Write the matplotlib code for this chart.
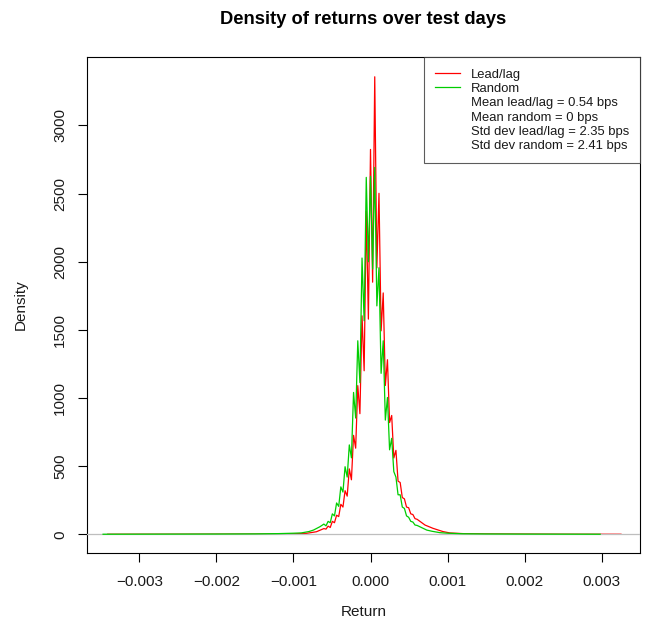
import matplotlib
matplotlib.use("Agg")
import matplotlib.pyplot as plt
from matplotlib.lines import Line2D
from matplotlib.ticker import FixedLocator, FuncFormatter

plt.rcParams['font.family'] = ['Liberation Sans', 'DejaVu Sans']

# ---------------- data (returns in basis points, density values) ----------------
center_bps = [-6.05, -5.775, -5.5, -5.225, -4.95, -4.675, -4.4, -4.125, -3.85, -3.575,
              -3.3, -3.025, -2.75, -2.475, -2.2, -1.925, -1.65, -1.375, -1.1, -0.825,
              -0.55, -0.275, 0.0, 0.275, 0.55, 0.825, 1.1, 1.375, 1.65, 1.925,
              2.2, 2.475, 2.75, 3.025, 3.3, 3.575, 3.85, 4.125, 4.4, 4.675,
              4.95, 5.225, 5.5, 5.775, 6.05]

leadlag_center = [42, 38, 60, 50, 95, 85, 140, 130, 220, 200,
                  320, 280, 480, 400, 726, 632, 1091, 885, 1603, 1200,
                  2371, 1579, 2824, 1850, 3357, 1955, 2502, 1493, 1771, 1092,
                  1281, 820, 872, 560, 616, 390, 380, 270, 260, 200,
                  195, 150, 145, 115, 110]

random_center = [75, 62, 95, 85, 150, 135, 230, 205, 348, 310,
                 496, 420, 656, 561, 1041, 853, 1420, 1113, 2027, 1567,
                 2619, 2000, 2627, 1946, 2692, 1676, 1956, 1181, 1420, 838,
                 1004, 620, 704, 460, 420, 290, 290, 200, 190, 135,
                 125, 95, 90, 68, 65]

leadlag_left_bps = [-34.1, -30.0, -25.0, -20.0, -15.0, -12.0, -10.0, -8.3, -7.0]
leadlag_left = [0.5, 0.8, 1.0, 1.5, 2.0, 3.0, 4.0, 7.0, 19.0]
leadlag_right_bps = [7.07, 8.1, 9.4, 10.3, 12.0, 15.0, 20.0, 25.0, 30.0, 32.5]
leadlag_right = [68, 44, 20, 10, 5, 3, 2, 1, 0.7, 0.5]

random_left_bps = [-34.7, -30.0, -25.0, -20.0, -15.0, -12.0, -10.0, -9.0, -8.0, -7.4, -6.55]
random_left = [0.5, 1.0, 1.5, 2.0, 3.0, 5.0, 8.0, 10.0, 20.0, 31.0, 56.0]
random_right_bps = [7.3, 8.0, 9.0, 10.0, 12.0, 15.0, 20.0, 25.0, 29.8]
random_right = [31, 22, 12, 8, 4, 2.5, 1.5, 1.0, 0.5]

x_ticks = [-0.003, -0.002, -0.001, 0.000, 0.001, 0.002, 0.003]
y_ticks = [0, 500, 1000, 1500, 2000, 2500, 3000]

legend_labels = ["Lead/lag", "Random",
                 "Mean lead/lag = 0.54 bps", "Mean random = 0 bps",
                 "Std dev lead/lag = 2.35 bps", "Std dev random = 2.41 bps"]

BPS = 1e-4
ll_x = [v * BPS for v in leadlag_left_bps + center_bps + leadlag_right_bps]
ll_y = leadlag_left + leadlag_center + leadlag_right
rd_x = [v * BPS for v in random_left_bps + center_bps + random_right_bps]
rd_y = random_left + random_center + random_right

# ---------------- figure ----------------
W, H = 648, 634
fig = plt.figure(figsize=(W / 100, H / 100), dpi=100)
ax = fig.add_axes([87.3 / W, 1 - 552.7 / H, (640 - 87.3) / W, (552.7 - 57.3) / H])

RED = '#FF0000'
GREEN = '#00CD00'
ax.plot(ll_x, ll_y, color=RED, lw=0.9, zorder=2)
ax.axhline(0, color='#BEBEBE', lw=0.9, zorder=3)
ax.plot(rd_x, rd_y, color=GREEN, lw=0.9, zorder=4)

ax.set_xlim(-0.0036746, 0.0034968)
ax.set_ylim(-135, 3500)

ax.xaxis.set_major_locator(FixedLocator(x_ticks))
ax.yaxis.set_major_locator(FixedLocator(y_ticks))
ax.xaxis.set_major_formatter(FuncFormatter(lambda v, p: ("%.3f" % v).replace('-', '\u2212')))
ax.yaxis.set_major_formatter(FuncFormatter(lambda v, p: "%d" % v))
ax.tick_params(axis='both', direction='out', length=6.5, width=0.8, color='black',
               labelsize=11, labelcolor='#1a1a1a')
ax.tick_params(axis='x', pad=9.5)
ax.tick_params(axis='y', pad=8)
for lab in ax.get_yticklabels():
    lab.set_rotation(90)
    lab.set_va('center')
for s in ax.spines.values():
    s.set_linewidth(0.8)
    s.set_color('black')

fig.text(363.6 / W, 1 - 19.3 / H, "Density of returns over test days",
         ha='center', va='center', fontsize=13.2, fontweight='bold', color='black')
fig.text(363.6 / W, 1 - 612 / H, "Return", ha='center', va='center', fontsize=11, color='#1a1a1a')
fig.text(21 / W, 1 - 305 / H, "Density", ha='center', va='center', rotation=90,
         fontsize=11, color='#1a1a1a')

handles = [Line2D([], [], color=RED, lw=0.9), Line2D([], [], color=GREEN, lw=0.9)] + \
          [Line2D([], [], color='none', lw=0) for _ in range(4)]
leg = ax.legend(handles, legend_labels, loc='upper right', fontsize=9.4,
                frameon=True, fancybox=False, borderaxespad=0, handlelength=1.85,
                handletextpad=0.85, labelspacing=0.17, borderpad=0.85)
leg.get_frame().set_edgecolor('#333333')
leg.get_frame().set_linewidth(0.8)
for t in leg.get_texts():
    t.set_color('#1a1a1a')

fig.savefig("out.png", dpi=100)
